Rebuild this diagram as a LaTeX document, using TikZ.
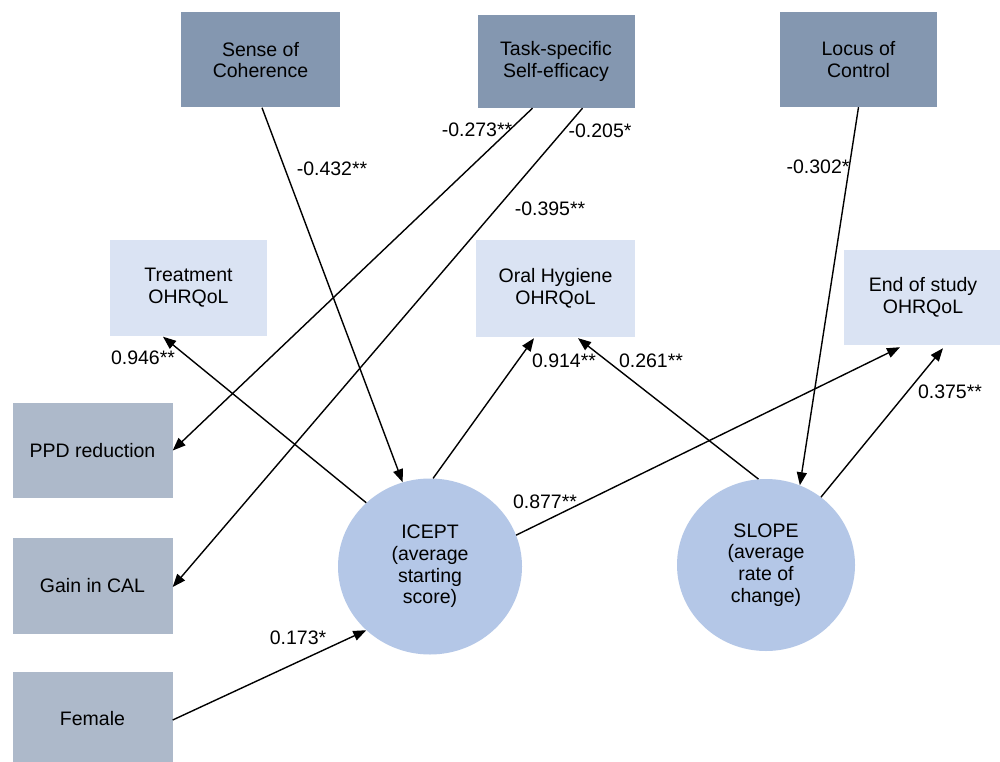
\documentclass[tikz,border=0pt]{standalone}
\usepackage{fontspec}
\setmainfont{Liberation Sans}
\usetikzlibrary{calc,arrows.meta,shapes.geometric}
\definecolor{darkbox}{HTML}{8497B0}
\definecolor{leftbox}{HTML}{ADB9CA}
\definecolor{lightbox}{HTML}{DAE3F3}
\definecolor{circ}{HTML}{B4C7E7}
\begin{document}
\begin{tikzpicture}[x=1pt,y=-1pt,
  txt/.style={font=\fontsize{19.5}{21.7}\selectfont, text=black, align=center},
  topbox/.style={txt, rectangle, fill=darkbox, minimum width=157pt, minimum height=95pt, inner sep=0pt},
  sidebox/.style={txt, rectangle, fill=leftbox, minimum width=160pt, minimum height=95pt, inner sep=0pt},
  outbox/.style={txt, rectangle, fill=lightbox, minimum width=157pt, minimum height=96pt, inner sep=0pt},
  latent/.style={txt, ellipse, fill=circ, inner sep=0pt},
  lbl/.style={txt, inner sep=0pt},
  arr/.style={line width=1.4pt, -{Triangle[length=13pt,width=10pt]}}
]
\useasboundingbox[fill=white] (0,0) rectangle (1000,762);

% top boxes
\node[topbox, minimum width=159pt] (Sense) at (260.5,60) {Sense of\\Coherence};
\node[topbox, minimum height=93pt] (Task) at (556,61.5) {Task-specific\\Self-efficacy};
\node[topbox] (Locus) at (858.5,59.5) {Locus of\\Control};

% outcome boxes
\node[outbox] (Treat) at (188.5,287.5) {Treatment\\OHRQoL};
\node[outbox, minimum width=159pt, minimum height=97pt] (Oral) at (555.5,288.5) {Oral Hygiene\\OHRQoL};
\node[outbox, minimum width=158pt, minimum height=95pt] (End) at (923,297.5) {End of study\\OHRQoL};

% left boxes
\node[sidebox] (PPD) at (92.5,450.5) {PPD reduction};
\node[sidebox, minimum height=96pt] (Gain) at (92.5,585.5) {Gain in CAL};
\node[sidebox, minimum height=94pt] (Female) at (92.5,719) {Female};

% latent variables
\node[latent, minimum width=184pt, minimum height=176pt] (ICEPT) at (430,566.5) {ICEPT\\(average\\starting\\score)};
\node[latent, minimum width=178pt, minimum height=172pt] (SLOPE) at (766,565) {SLOPE\\(average\\rate of\\change)};

% connectors
\draw[arr] ($(Sense.south)+(1.5,0)$) -- (ICEPT.108);
\draw[arr] ($(Task.south)+(-23.5,0)$) -- (PPD.east);
\draw[arr] ($(Task.south)+(26.5,0)$) -- ($(Gain.east)+(0,1.5)$);
\draw[arr] (Locus.south) -- (SLOPE.67);
\draw[arr] (ICEPT.135) -- ($(Treat.south)+(-25.5,1)$);
\draw[arr] (ICEPT.88) -- ($(Oral.south)+(-21.5,1)$);
\draw[arr] (SLOPE.95) -- ($(Oral.south)+(22.5,1)$);
\draw[arr] (ICEPT.20) -- ($(End.south)+(-23,2)$);
\draw[arr] (SLOPE.51) -- ($(End.south)+(20,3)$);
\draw[arr] ($(Female.east)+(0,1)$) -- (ICEPT.225);

% coefficient labels
\node[lbl] (l1) at (332,169) {-0.432**};
\node[lbl] (l2) at (477,130) {-0.273**};
\node[lbl] (l3) at (600,131) {-0.205*};
\node[lbl] (l4) at (550,209) {-0.395**};
\node[lbl] (l5) at (818,167) {-0.302*};
\node[lbl] (l6) at (143,358) {0.946**};
\node[lbl] (l7) at (564,361) {0.914**};
\node[lbl] (l8) at (651,361) {0.261**};
\node[lbl] (l9) at (545,502) {0.877**};
\node[lbl] (l10) at (950,392) {0.375**};
\node[lbl] (l11) at (298,638) {0.173*};
\end{tikzpicture}
\end{document}
